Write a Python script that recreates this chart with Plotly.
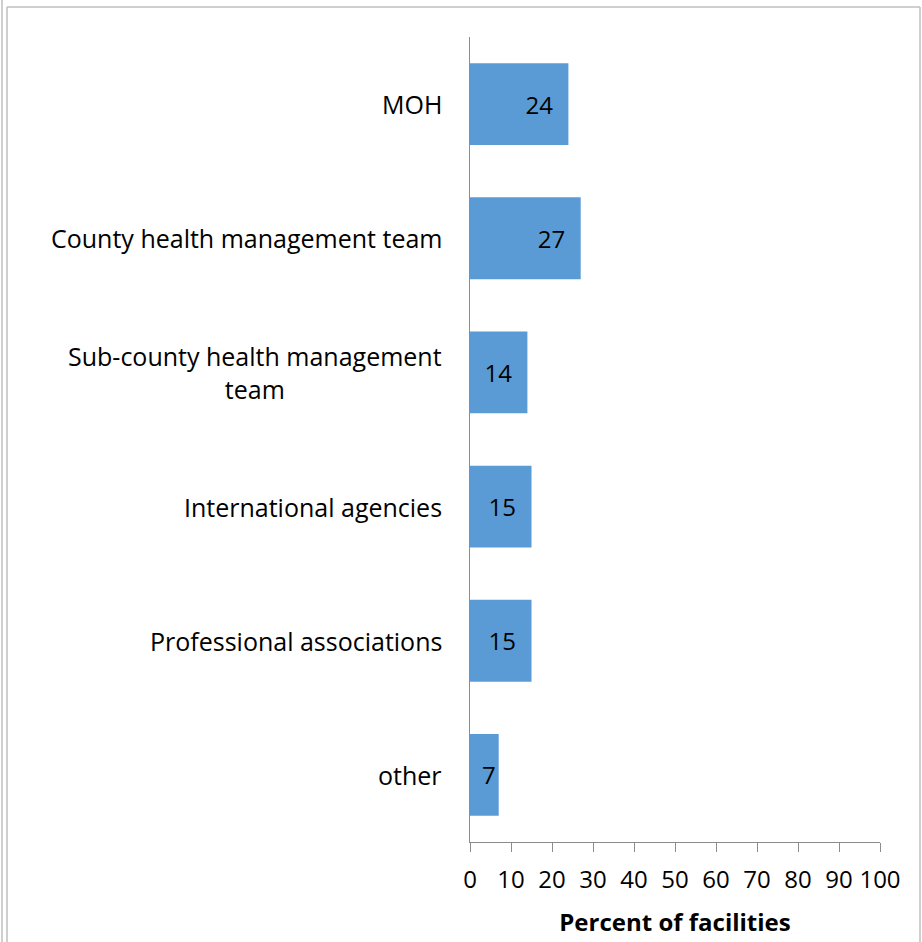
import plotly.graph_objects as go

categories = ["MOH", "County health management team", "Sub-county health management<br>team",
              "International agencies", "Professional associations", "other"]
values = [24, 27, 14, 15, 15, 7]
x_ticks = [0, 10, 20, 30, 40, 50, 60, 70, 80, 90, 100]

FONT = "Open Sans"
L, R, T, B = 470, 42, 37, 100
W, H = 922, 942
pw, ph = W - L - R, H - T - B

def px(x):
    return (x - L) / pw

def py(y):
    return (H - B - y) / ph

fig = go.Figure()
fig.add_trace(go.Bar(
    y=list(range(len(categories))), x=values, orientation="h",
    marker=dict(color="#5B9BD5", line=dict(width=0)),
    text=[f"{v}\u00a0\u00a0" if v > 10 else f"{v}" for v in values],
    textposition="inside", insidetextanchor="end",
    textfont=dict(family=FONT, size=24, color="black"),
    constraintext="none", cliponaxis=False, hoverinfo="skip",
))

for i, c in enumerate(categories):
    fig.add_annotation(x=px(444), xref="paper", y=i, yref="y", text=c,
                       xanchor="right", yanchor="middle", align="center",
                       showarrow=False, font=dict(family=FONT, size=25, color="black"))

gray = "#BFBFBF"
fig.add_shape(type="line", xref="paper", yref="paper", x0=px(2), x1=px(2), y0=py(0), y1=py(945),
              line=dict(color=gray, width=1.5))
fig.add_shape(type="line", xref="paper", yref="paper", x0=px(7), x1=px(7), y0=py(7), y1=py(945),
              line=dict(color=gray, width=1.5))
fig.add_shape(type="line", xref="paper", yref="paper", x0=px(7), x1=px(920), y0=py(7), y1=py(7),
              line=dict(color=gray, width=1.5))
fig.add_shape(type="line", xref="paper", yref="paper", x0=px(920), x1=px(920), y0=py(7), y1=py(945),
              line=dict(color=gray, width=1.5))

fig.update_layout(
    width=W, height=H, margin=dict(l=L, r=R, t=T, b=B, autoexpand=False),
    paper_bgcolor="white", plot_bgcolor="white", showlegend=False,
    bargap=0.39, font=dict(family=FONT, color="black"),
)
fig.update_xaxes(range=[0, 100], tickvals=x_ticks, ticks="outside", ticklen=9, tickcolor="#8C8C8C",
                 showline=True, linecolor="#8C8C8C", linewidth=1, showgrid=False, zeroline=False,
                 tickfont=dict(family=FONT, size=24, color="black"), ticklabelstandoff=7,
                 title=dict(text="<b>Percent of facilities</b>", standoff=20,
                            font=dict(family=FONT, size=24, color="black")))
fig.update_yaxes(range=[5.5, -0.5], showticklabels=False, ticks="", showline=True,
                 linecolor="#8C8C8C", linewidth=1, showgrid=False, zeroline=False)

fig.write_html("out.html", config={"displayModeBar": False},
               post_script="document.body.style.margin='0';document.body.style.overflow='hidden';")
